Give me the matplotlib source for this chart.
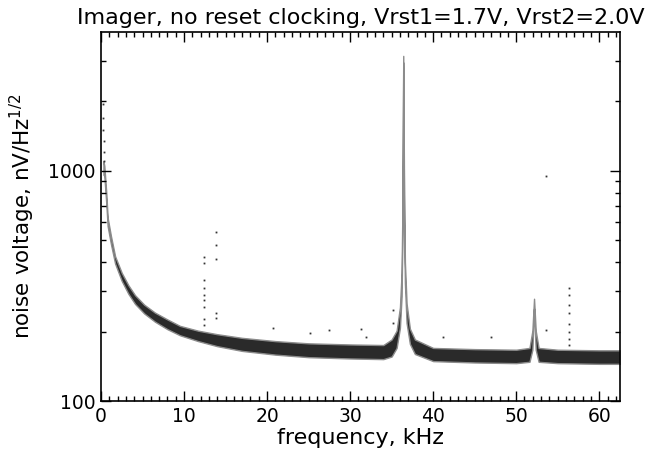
import matplotlib
matplotlib.use("Agg")
import matplotlib.pyplot as plt
from matplotlib.ticker import FixedLocator, NullFormatter, MultipleLocator

# noise band: frequency (kHz), lower and upper edge (nV/Hz^1/2)
band_f = [0.3, 0.4, 0.65, 0.8, 1.2, 1.7, 2.5, 3.3, 4.1, 5.2, 6.5, 8.0, 9.5, 11.7,
          14, 17, 21, 25, 30, 34, 35.0, 35.6, 36.0, 36.2, 36.3, 36.4, 36.5, 36.6,
          36.8, 37.2, 37.8, 40, 45, 50, 51.6, 51.95, 52.15, 52.35, 52.7, 55, 60, 62.5]
band_lo = [960, 950, 710, 575, 480, 395, 332, 292, 264, 240, 221, 205, 193, 182,
           173, 165, 159, 155, 153, 152, 156, 170, 208, 285, 530, 2950, 610, 325,
           218, 177, 160, 149, 147, 146, 148, 167, 252, 167, 148, 146, 145, 145]
band_hi = [1100, 1050, 790, 625, 520, 425, 360, 318, 288, 262, 242, 226, 212, 202,
           195, 188, 182, 178, 176, 175, 185, 202, 255, 360, 690, 3150, 790, 400,
           265, 206, 185, 170, 168, 167, 170, 202, 278, 202, 170, 167, 166, 166]

# isolated points (spurs and outliers)
dot_f = [0.25, 0.3, 0.3, 0.35, 0.35, 0.4,
         12.4, 12.4, 12.4, 12.4, 12.4, 12.4, 12.4, 12.4, 12.4,
         13.9, 13.9, 13.9, 13.9, 13.9,
         20.7, 25.2, 27.5, 31.3, 31.9, 35.2, 35.2, 41.2, 47.0, 53.6, 53.6,
         56.4, 56.4, 56.4, 56.4, 56.4, 56.4, 56.4, 56.4]
dot_v = [1950, 1700, 1500, 1350, 1200, 1100,
         420, 396, 334, 309, 290, 274, 255, 228, 213,
         540, 477, 412, 240, 230,
         207, 197, 203, 205, 189, 248, 218, 189, 189, 951, 203,
         310, 290, 262, 240, 215, 200, 185, 175]

plt.rcParams['font.family'] = 'DejaVu Sans'
plt.rcParams['font.size'] = 15

fig = plt.figure(figsize=(6.49, 4.57), dpi=100)
ax = fig.add_axes([0.1556, 0.1225, 0.7997, 0.8075])

ax.fill_between(band_f, band_lo, band_hi, facecolor='#2a2a2a', edgecolor='#8c8c8c', lw=1.0)
ax.plot(dot_f, dot_v, 's', ms=1.3, color='#333333', mew=0)

ax.set_yscale('log')
ax.set_xlim(0, 62.5)
ax.set_ylim(100, 4000)

ax.xaxis.set_major_locator(MultipleLocator(10))
ax.xaxis.set_minor_locator(MultipleLocator(1))
ax.yaxis.set_major_locator(FixedLocator([100, 1000]))
ax.set_yticklabels(['100', '1000'])
ax.yaxis.set_minor_locator(FixedLocator([200, 300, 400, 500, 600, 700, 800, 900, 2000, 3000]))
ax.yaxis.set_minor_formatter(NullFormatter())

ax.tick_params(which='both', direction='in', top=True, right=True, width=1.0, labelsize=13.5)
ax.tick_params(which='major', length=7, pad=4)
ax.tick_params(which='minor', length=3.5)
for s in ax.spines.values():
    s.set_linewidth(1.2)

ax.set_xlabel('frequency, kHz', fontsize=16, labelpad=2)
ax.set_ylabel('noise voltage, nV/Hz$^{1/2}$', fontsize=15.5, labelpad=8)
ax.set_title('Imager, no reset clocking, Vrst1=1.7V, Vrst2=2.0V', fontsize=16, pad=6, x=0.5)

fig.savefig('out.png', dpi=100)
